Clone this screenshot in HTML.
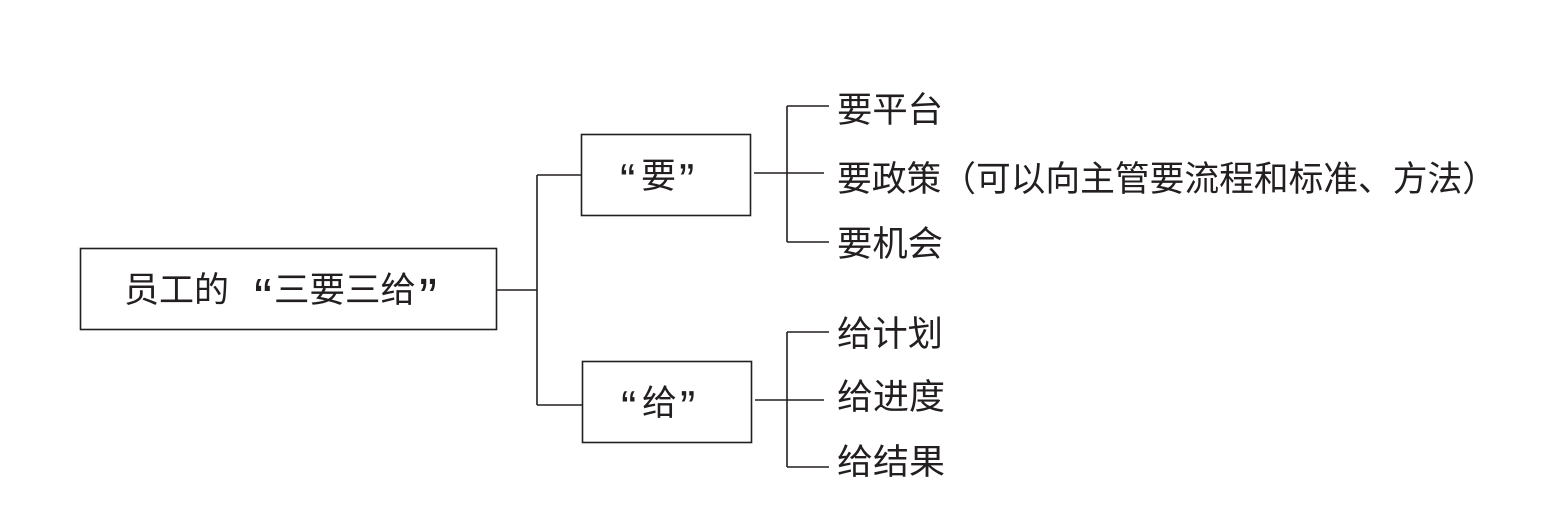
<!DOCTYPE html>
<html><head><meta charset="utf-8"><style>
html,body{margin:0;padding:0;background:#fff;}
svg text{font-family:"Noto Sans CJK SC","Liberation Sans",sans-serif;fill:#231f20;font-size:35px;}
svg text.q{font-family:"Liberation Sans",sans-serif;}
</style></head><body>
<svg width="1550" height="503" viewBox="0 0 1550 503" xmlns="http://www.w3.org/2000/svg">
<g fill="none" stroke="#231f20" stroke-width="1.6">
<rect x="80.5" y="248.5" width="416" height="81"/>
<rect x="581.5" y="134.5" width="169" height="81"/>
<rect x="582.5" y="361.5" width="169" height="81"/>
<path d="M497 290H537M537 175V405M537 175H581M537 405H582"/>
<path d="M754 173H824M787 106V242M787 106H829M787 242H829"/>
<path d="M755 400H824M787 332V467M787 332H829M787 467H829"/>
</g>
<text x="124" y="302" textLength="105" lengthAdjust="spacingAndGlyphs">员工的</text>
<text class="q" x="254" y="316" style="font-size:54px">“</text>
<text x="274" y="302" textLength="142" lengthAdjust="spacingAndGlyphs">三要三给</text>
<text class="q" x="419" y="316" style="font-size:54px">”</text>

<text class="q" x="620" y="196" style="font-size:46px">“</text>
<text x="641" y="188">要</text>
<text class="q" x="679" y="196" style="font-size:46px">”</text>

<text class="q" x="621" y="423" style="font-size:46px">“</text>
<text x="642" y="415">给</text>
<text class="q" x="680" y="423" style="font-size:46px">”</text>

<text x="837" y="122" textLength="106" lengthAdjust="spacingAndGlyphs">要平台</text>
<text x="837" y="191" textLength="660" lengthAdjust="spacingAndGlyphs">要政策（可以向主管要流程和标准、方法）</text>
<text x="837" y="256" textLength="106" lengthAdjust="spacingAndGlyphs">要机会</text>
<text x="837" y="346" textLength="106" lengthAdjust="spacingAndGlyphs">给计划</text>
<text x="837" y="409" textLength="108" lengthAdjust="spacingAndGlyphs">给进度</text>
<text x="837" y="474" textLength="108" lengthAdjust="spacingAndGlyphs">给结果</text>
</svg>
</body></html>
